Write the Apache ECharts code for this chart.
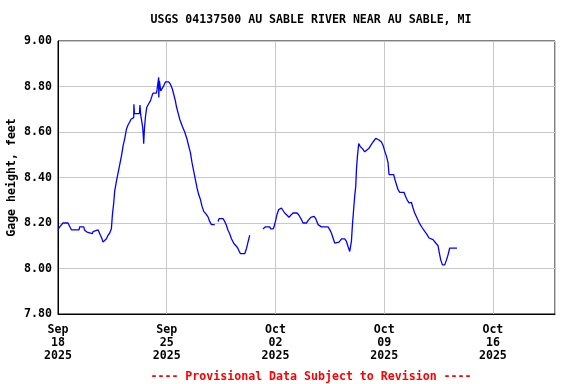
<!DOCTYPE html>
<html>
<head>
<meta charset="utf-8">
<script src="https://cdn.jsdelivr.net/npm/echarts@6/dist/echarts.min.js"></script>
<style>
html,body{margin:0;padding:0;background:#fff;}
#chart{width:576px;height:384px;}
</style>
</head>
<body>
<div id="chart"></div>
<script>
const titleText = "USGS 04137500 AU SABLE RIVER NEAR AU SABLE, MI";
const footerText = "---- Provisional Data Subject to Revision ----";
const yAxisName = "Gage height, feet";
const startDateUTC = Date.UTC(2025, 8, 18); // Sep 18 2025
const monthNames = ["Jan","Feb","Mar","Apr","May","Jun","Jul","Aug","Sep","Oct","Nov","Dec"];

// hours since Sep 18 2025 00:00
const hours = [
  0, 2.6, 5.3, 7.7, 15.5, 18.1, 20.7, 32.5, 33.5, 39.7, 41.3, 44.8, 47.4, 53.2, 54.1, 56.7,
  61.8, 63.4, 65.5, 68, 69.5, 72.2, 74.8, 77.3, 79.9, 82.5, 84.1, 86.1, 87.6, 90.3, 92.7,
  95.4, 98, 100.5, 103.1, 105.7, 108.2, 110.8, 112.8, 115.4, 117, 117.3, 118.1, 125.8, 126.7,
  127.8, 129.8, 130.9, 132, 132.4, 133.5, 135.1, 137.1, 139.7, 142.8, 145.3, 146.8, 152.1,
  153, 155.6, 155.7, 156.7, 158.7, 161.3, 163.3, 166, 171.1, 173.7, 176.8, 178.8, 181.4,
  183, 185.4, 188.1, 192.2, 195.8, 199.4, 202, 204.6, 207.1, 209.7, 212.3, 214.8, 217.4,
  220.1, 222.5, 225.2, 228.3, 231.8, 234.4, 237.1, 242.2,
  244,
  247.3, 248.8, 255, 257.6, 260.2, 262.7, 265.3, 268, 272, 275.7, 278.2, 281.9, 288.5,
  291.2, 293.6, 296.3,
  305,
  316.8, 320.5, 327.2, 328.7, 332.3, 333.8, 336, 338.4, 341.1, 345.2, 347.7, 350.3, 353.9,
  357, 359.6, 363.2, 365.8, 369.4, 372.4, 376.2, 378.6, 383.9, 386.4, 390.5, 395.6, 398.3,
  401.8, 407.1, 417.3, 419.9, 422.5, 425, 427.6, 430.2, 434.3, 438, 443.1, 445.7, 448.2,
  450.8, 453.4, 455, 457, 458.5, 460.1, 461.2, 462.7, 464.7, 467.3, 470.4, 474, 476.6,
  480.2, 483.3, 486.8, 491, 493, 496.1, 499.8, 502.3, 504.9, 507.5, 510, 511.5, 518.8,
  520.3, 523, 525.4, 528.1, 534.7, 536.9, 539.3, 542.4, 546.1, 548.6, 551.2, 554.8, 558.9,
  563.1, 566.7, 570.3, 573.3, 579.5, 583.7, 587.3, 588.8, 591.4, 594.1, 597.6, 600.3,
  602.7, 605.3, 616.6
];

// gage height, feet (null = no data)
const gageHeight = [
  8.171, 8.183, 8.188, 8.200, 8.200, 8.185, 8.170, 8.170, 8.183, 8.183, 8.168, 8.160, 8.153, 8.153, 8.162, 8.170,
  8.170, 8.160, 8.146, 8.131, 8.116, 8.116, 8.131, 8.146, 8.156, 8.175, 8.237, 8.288, 8.340, 8.384, 8.418,
  8.457, 8.494, 8.538, 8.571, 8.612, 8.631, 8.644, 8.656, 8.663, 8.663, 8.722, 8.681, 8.681, 8.719,
  8.675, 8.675, 8.620, 8.575, 8.549, 8.612, 8.666, 8.708, 8.722, 8.737, 8.759, 8.771, 8.771,
  8.785, 8.840, 8.752, 8.825, 8.781, 8.781, 8.803, 8.820, 8.820, 8.810, 8.788, 8.766, 8.737,
  8.712, 8.685, 8.656, 8.624, 8.600, 8.568, 8.538, 8.509, 8.465, 8.428, 8.391, 8.355, 8.325,
  8.303, 8.274, 8.251, 8.241, 8.227, 8.207, 8.193, 8.193,
  null,
  8.207, 8.219, 8.219, 8.207, 8.190, 8.168, 8.153, 8.131, 8.109, 8.098, 8.087, 8.065, 8.065,
  8.087, 8.116, 8.146,
  null,
  8.174, 8.183, 8.183, 8.174, 8.174, 8.183, 8.207, 8.237, 8.259, 8.266, 8.259, 8.244, 8.234,
  8.225, 8.234, 8.244, 8.251, 8.244, 8.234, 8.215, 8.200, 8.200, 8.210, 8.225, 8.229, 8.219,
  8.193, 8.183, 8.183, 8.171, 8.156, 8.134, 8.112, 8.105, 8.116, 8.130, 8.130, 8.119, 8.097,
  8.075, 8.119, 8.193, 8.266, 8.318, 8.362, 8.435, 8.494, 8.549, 8.535, 8.527, 8.513, 8.520,
  8.527, 8.541, 8.556, 8.572, 8.575, 8.565, 8.556, 8.541, 8.516, 8.494, 8.465, 8.413, 8.413,
  8.394, 8.369, 8.347, 8.335, 8.335, 8.318, 8.303, 8.288, 8.291, 8.266, 8.244, 8.222, 8.197,
  8.178, 8.163, 8.149, 8.134, 8.127, 8.112, 8.100, 8.075, 8.038, 8.016, 8.016, 8.038,
  8.060, 8.090, 8.090
];

const xMinHours = 0;
const xMaxHours = 768;     // Oct 20 2025
const xTickHours = 168;    // 7 days
const yMin = 7.8, yMax = 9.0, yTick = 0.2;

const FONT = "DejaVu Sans Mono";
const chart = echarts.init(document.getElementById('chart'), null, {renderer: 'canvas'});

function dateLabel(h) {
  const d = new Date(startDateUTC + h * 3600000);
  const dd = String(d.getUTCDate()).padStart(2, '0');
  return monthNames[d.getUTCMonth()] + '\n' + dd + '\n' + d.getUTCFullYear();
}

const seriesData = hours.map((h, i) => [h, gageHeight[i] === null ? '-' : gageHeight[i]]);

chart.setOption({
  animation: false,
  backgroundColor: '#ffffff',
  title: [
    {
      text: titleText,
      left: 306, top: 9, textAlign: 'center',
      textStyle: {fontFamily: FONT, fontWeight: 'bold', fontSize: 11.6, color: '#000'}
    },
    {
      text: footerText,
      left: 306, top: 366, textAlign: 'center',
      textStyle: {fontFamily: FONT, fontWeight: 'bold', fontSize: 11.6, color: '#ff0000'}
    }
  ],
  grid: {
    left: 58, right: 21, top: 41, bottom: 70,
    containLabel: false, outerBoundsMode: 'none',
    show: true, borderColor: '#000', borderWidth: 1, backgroundColor: 'transparent'
  },
  xAxis: {
    type: 'value',
    min: xMinHours, max: xMaxHours, interval: xTickHours,
    axisLine: {show: true, lineStyle: {color: '#000', width: 1}},
    axisTick: {show: false},
    splitLine: {show: true, lineStyle: {color: '#c8c8c8', width: 1}},
    axisLabel: {
      margin: 9, lineHeight: 13,
      fontFamily: FONT, fontWeight: 'bold', fontSize: 11.6, color: '#000',
      formatter: v => dateLabel(v),
      showMaxLabel: false
    }
  },
  yAxis: {
    type: 'value',
    min: yMin, max: yMax, interval: yTick,
    name: yAxisName, nameLocation: 'middle', nameGap: 40, nameRotate: 90,
    nameMoveOverlap: false,
    nameTextStyle: {fontFamily: FONT, fontWeight: 'bold', fontSize: 11.6, color: '#000'},
    axisLine: {show: true, lineStyle: {color: '#000', width: 1}},
    axisTick: {show: false},
    splitLine: {show: true, lineStyle: {color: '#c8c8c8', width: 1}},
    axisLabel: {
      margin: 6, fontFamily: FONT, fontWeight: 'bold', fontSize: 11.6, color: '#000',
      formatter: v => v.toFixed(2)
    }
  },
  series: [{
    type: 'line',
    data: seriesData,
    showSymbol: false,
    connectNulls: false,
    lineStyle: {color: '#0000ff', width: 1.3},
    itemStyle: {color: '#0000ff'}
  }]
});
</script>
</body>
</html>
